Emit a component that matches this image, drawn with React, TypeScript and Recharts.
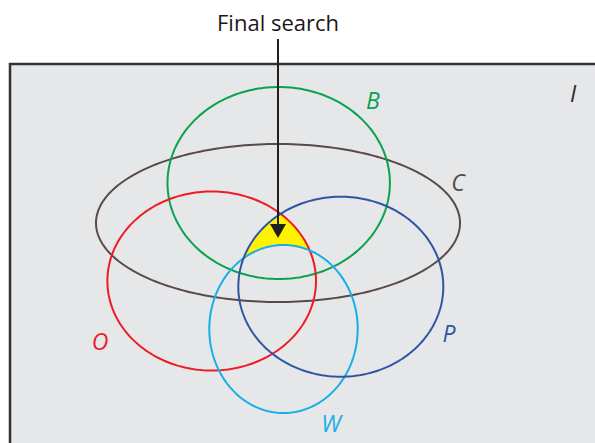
import React from "react";
import {
  ComposedChart,
  Line,
  Area,
  Scatter,
  XAxis,
  YAxis,
  ReferenceArea,
} from "recharts";

// Sets of the Venn diagram, in the picture's own coordinate units (y grows downward)
const setNames = ["C", "B", "O", "W", "P"];
const centerX = [278, 278.7, 211.7, 283.5, 340.8];
const centerY = [223, 183, 281, 329, 286.7];
const radiusX = [182, 111.2, 104.3, 74.2, 102.5];
const radiusY = [79, 96, 89.5, 84, 90];

// label positions for each set, plus the universe "I"
const labelText = ["C", "B", "O", "W", "P", "I"];
const labelX = [458, 373, 100, 331, 449, 573];
const labelY = [182, 100, 341, 423, 333, 93];

// universe frame corner, and the arrow pointing into the final search region
const frameCorner = [10, 64];
const arrowFrom = [278, 39];
const arrowTip = [278, 238];
const titleText = "Final search";

const colors: Record<string, string> = {
  B: "#0aa14f",
  C: "#5a4a47",
  O: "#ed1c24",
  P: "#2e55a4",
  W: "#19aee8",
  I: "#2b2b2b",
};

const W = 595;
const H = 443;

// trace an ellipse outline from its centre and radii
function outline(i: number) {
  const pts = [];
  const n = 240;
  for (let k = 0; k <= n; k++) {
    const t = (k / n) * Math.PI * 2;
    pts.push({
      x: centerX[i] + radiusX[i] * Math.cos(t),
      y: centerY[i] + radiusY[i] * Math.sin(t),
    });
  }
  return pts;
}

// upper arc of set i at x (null when outside)
function upperArc(i: number, x: number) {
  const u = (x - centerX[i]) / radiusX[i];
  if (Math.abs(u) > 1) return null;
  return centerY[i] - radiusY[i] * Math.sqrt(1 - u * u);
}

// region inside O and P but above W (the yellow "final search")
function finalRegion() {
  const o = setNames.indexOf("O");
  const p = setNames.indexOf("P");
  const w = setNames.indexOf("W");
  const pts = [];
  for (let x = 220; x <= 340; x += 0.25) {
    const yo = upperArc(o, x);
    const yp = upperArc(p, x);
    const yw = upperArc(w, x);
    if (yo === null || yp === null || yw === null) continue;
    const top = Math.max(yo, yp);
    if (top < yw) pts.push({ x, range: [top, yw] });
  }
  return pts;
}

const labelData = labelText.map((t, i) => ({ x: labelX[i], y: labelY[i], t }));
const titleData = [{ x: arrowFrom[0], y: 22, t: titleText }];
const arrowLine = [
  { x: arrowFrom[0], y: arrowFrom[1] },
  { x: arrowTip[0], y: arrowTip[1] - 10 },
];
const arrowHead = [{ x: arrowTip[0], y: arrowTip[1] }];

const SetLabel = (props: any) => {
  const { cx, cy, payload } = props;
  return (
    <text
      x={cx}
      y={cy}
      textAnchor="middle"
      dominantBaseline="central"
      fontFamily="'Open Sans', sans-serif"
      fontStyle="italic"
      fontSize={23}
      fill={colors[payload.t]}>
      {payload.t}
    </text>
  );
};

const Title = (props: any) => {
  const { cx, cy, payload } = props;
  return (
    <text
      x={cx}
      y={cy}
      textAnchor="middle"
      dominantBaseline="central"
      fontFamily="'Open Sans', sans-serif"
      fontSize={22}
      fill="#1a1718">
      {payload.t}
    </text>
  );
};

const ArrowHead = (props: any) => {
  const { cx, cy } = props;
  return (
    <polygon
      points={`${cx - 8},${cy - 14} ${cx + 8},${cy - 14} ${cx},${cy}`}
      fill="#231f20"
    />
  );
};

export default function App() {
  return (
    <div style={{ width: W, height: H }}>
      <style>{"body{margin:0}"}</style>
      <ComposedChart width={W} height={H} margin={{ top: 0, right: 0, bottom: 0, left: 0 }}>
        <XAxis type="number" dataKey="x" domain={[0, W]} allowDataOverflow hide />
        <YAxis type="number" domain={[0, H]} reversed allowDataOverflow hide />
        <ReferenceArea
          x1={frameCorner[0]}
          y1={frameCorner[1]}
          x2={W + 20}
          y2={H + 20}
          ifOverflow="visible"
          fill="#e6e7e9"
          fillOpacity={1}
          stroke="#333333"
          strokeWidth={2.5}
        />
        <Area
          data={finalRegion()}
          dataKey="range"
          type="linear"
          fill="#fff200"
          fillOpacity={1}
          stroke="none"
          dot={false}
          activeDot={false}
          isAnimationActive={false}
        />
        {setNames.map((name, i) => (
          <Line
            key={name}
            data={outline(i)}
            dataKey="y"
            type="linear"
            dot={false}
            activeDot={false}
            stroke={colors[name]}
            strokeWidth={2}
            isAnimationActive={false}
          />
        ))}
        <Line
          data={arrowLine}
          dataKey="y"
          type="linear"
          dot={false}
          activeDot={false}
          stroke="#231f20"
          strokeWidth={2}
          isAnimationActive={false}
        />
        <Scatter data={arrowHead} dataKey="y" shape={ArrowHead} isAnimationActive={false} />
        <Scatter data={labelData} dataKey="y" shape={SetLabel} isAnimationActive={false} />
        <Scatter data={titleData} dataKey="y" shape={Title} isAnimationActive={false} />
      </ComposedChart>
    </div>
  );
}
